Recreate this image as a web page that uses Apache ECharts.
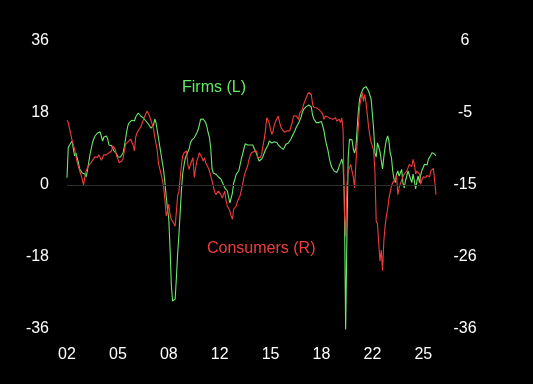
<!DOCTYPE html>
<html>
<head>
<meta charset="utf-8">
<script src="https://cdn.jsdelivr.net/npm/echarts@6/dist/echarts.min.js"></script>
<style>
html,body{margin:0;padding:0;background:#000;}
#c{width:533px;height:384px;}
</style>
</head>
<body>
<div id="c"></div>
<script>
// Monthly data, Jan 2002 onwards
const firms = [
  1.8, 9.3, 10, 10.5, 11, 9, 7.3, 8, 7.5, 5.5, 4, 3.5,
  3, 2.5, 2.75, 2, 3.5, 5.5, 7.5, 9, 10.5, 11.5, 12.25, 12.5,
  13, 12.5, 13.3, 13.5, 11, 12, 12.5, 12.25, 11.5, 10, 9.5, 9.8,
  9.3, 8.5, 8.2, 7.75, 7, 6.5, 7, 7.5, 8, 9.5, 11.5, 13.5,
  15, 15.6, 16, 16.2, 16.5, 16, 17, 17.5, 18, 17.5, 17.25, 17,
  16.75, 16.5, 16, 15.5, 15.25, 15, 14.2, 14, 15, 16.5, 15.5, 13.5,
  11.5, 9.5, 7.5, 5.5, 3.5, 0.5, -3, -6, -8.5, -16, -25, -29,
  -29.4, -28.5, -23, -17, -12.25, -6.5, -1, 3, 5, 6.8, 7.5, 8.3,
  9, 10.5, 11.2, 11.5, 11.8, 12.3, 13, 13.8, 15, 16.4, 16.8, 16.5,
  16.2, 15.6, 14.5, 13, 11.8, 9, 4, 3, 2.8, 2.7, 2.3, 2,
  1.8, 1.5, 1, 0, -0.7, -1, -1.5, -3, -4.5, -4.8, -2, 0.5,
  1.5, 2.7, 3, 3.5, 5, 6.5, 7.7, 9, 10.3, 10.6, 10, 9.8,
  10, 10.2, 10, 9.2, 8.9, 7.8, 6.8, 6, 5.6, 6.5, 7.2, 8,
  8.8, 9.3, 10, 11, 10.8, 10.5, 10.6, 10.8, 10.5, 10.6, 10, 9.75,
  9.4, 9, 8.9, 9.5, 10.2, 10.4, 10.5, 10.6, 11.5, 12.2, 12.7, 13.5,
  14.3, 14.8, 15.5, 16, 17, 18.2, 18.9, 19.3, 19.6, 19.75, 20, 20.2,
  19.5, 17.5, 16.5, 16, 15.6, 15.5, 15.6, 15.8, 15.9, 16, 13.5, 11.5,
  10, 8.8, 7, 5.5, 4.5, 4, 3.5, 3.2, 3.1, 3.8, 4.8, 5.6,
  6.5, 5, -3, -36.5, -12, 7, 11.4, 11, 11.3, 9, 8, 9.3,
  14, 18.5, 21.5, 22.7, 23.5, 24.2, 24.5, 24.6, 24.75, 23.5, 22.5, 21.5,
  21, 14, 8, 7, 10.5, 9.5, 8.3, 8, 4, 7, 9.5, 11.3,
  12.25, 11, 8, 6.8, 3.5, 1.5, 0.6, 2.7, 3.5, 2.25, 3, 3.9,
  0.6, -0.7, 1, 2.25, 3.5, 2.5, 1.5, 0.6, 2.7, 1, -1, 1,
  2.25, 0.6, 2.5, 3.7, 3.9, 5.2, 4.75, 5, 6.4, 6, 7.5, 8.1,
  8, 7.7, 7.25
];
const consumers = [
  -5.56, -5.9, -6.8, -7.6, -8.5, -9.2, -9.8, -10.8, -11.7, -12.3, -12.96, -13.5,
  -14.2, -15, -13.9, -13, -12.5, -12.2, -12, -11.75, -11.4, -11.2, -10.9, -10.77,
  -11, -10.6, -10.5, -11.4, -11, -10.6, -10.77, -10.6, -10.5, -10.3, -10.2, -10.04,
  -9.3, -9.5, -9.8, -10.77, -11.2, -11.75, -11.6, -11.5, -11.2, -11, -9.07, -8.9,
  -8.7, -8.5, -8.3, -8.1, -9.2, -10.04, -8, -7.4, -7.2, -6.8, -6.5, -6,
  -5.5, -5, -4.6, -4.2, -4.46, -5, -5.6, -6.15, -6.8, -8.1, -9, -10.04,
  -12, -12.7, -13.5, -14.3, -15.4, -17.2, -19.5, -18.8, -17.8, -19.3, -20, -20.3,
  -20.5, -21, -18.8, -16.5, -15.9, -13.9, -12, -10.7, -10.3, -10.2, -10.04, -12.1,
  -12.7, -12, -11.5, -11, -13.9, -12.7, -11.5, -11, -10.3, -10.04, -11, -11.5,
  -11, -11.75, -12, -12.5, -12.96, -13.2, -14.4, -15.2, -16, -16.4, -16.6, -15.9,
  -15.9, -16.4, -16.9, -17, -15.9, -17.3, -18.06, -18.4, -18.8, -19.5, -20, -18.5,
  -18.3, -18.06, -17.4, -16.9, -16.6, -16.4, -14.9, -13.9, -13.2, -12.7, -12.2, -11.3,
  -10.7, -10.3, -10.2, -10.1, -10, -10.04, -11, -11.2, -11, -10.5, -9.3, -8.3,
  -7, -5.2, -5.42, -6, -7, -7.6, -7.1, -6.2, -5.7, -5.42, -4.94, -5.8,
  -6.5, -6.88, -7.1, -7.3, -7.2, -7.1, -7.37, -7.1, -6.5, -5.9, -4.94, -5.2,
  -4.9, -4.7, -5.42, -4.46, -4.2, -3.96, -3.23, -3, -2.27, -1.8, -1.5, -1.29,
  -1.8, -3.2, -3.7, -3.96, -3.73, -3.96, -4, -4.2, -4.4, -4.7, -5.42, -4.94,
  -5, -5.1, -5.2, -5.3, -5.4, -5.42, -5.3, -5.2, -5.67, -5.5, -5.42, -5.9,
  -5.2, -7, -19, -22.5, -15, -12.96, -12.5, -12, -12.96, -13.8, -15.4, -12,
  -9.07, -6.5, -3.48, -2.5, -1.5, -2.8, -1.8, -3, -4.7, -6.5, -7.8, -8.8,
  -9.3, -10, -13, -20.3, -20.7, -23.5, -26.1, -24.5, -27.5, -23.2, -21, -19.5,
  -18.5, -17, -16, -15.2, -14.6, -14.5, -14.3, -13.6, -16.4, -15.4, -14.8, -14.3,
  -13.8, -13.4, -13.2, -12.96, -12.5, -12, -12.2, -12.3, -11.25, -12, -13.4, -12.96,
  -12.7, -13.4, -14.9, -14.2, -13.8, -13.7, -13.9, -13.6, -13.4, -13.8, -12.9, -12.7,
  -12.6, -12.7, -16.4
];
const startYear = 2002;
const leftTicks = { min: -36, max: 36, interval: 18 };
const rightTicks = { min: -36, max: 6, interval: 10.5 };

const months = [];
for (let i = 0; i < firms.length; i++) {
  const y = startYear + Math.floor(i / 12);
  const m = (i % 12) + 1;
  months.push(y + '-' + (m < 10 ? '0' + m : m));
}

const FONT = 'Liberation Sans, Arial, sans-serif';
const chart = echarts.init(document.getElementById('c'), null, { renderer: 'canvas' });
chart.setOption({
  backgroundColor: '#000000',
  animation: false,
  grid: { left: 67, right: 97, top: 41, bottom: 55, containLabel: false },
  xAxis: {
    type: 'category',
    data: months,
    boundaryGap: false,
    axisLine: { show: false },
    axisTick: { show: false },
    splitLine: { show: false },
    axisLabel: {
      interval: 39,
      color: '#ffffff',
      fontFamily: FONT,
      fontSize: 16,
      margin: 18,
      formatter: v => v.slice(2, 4)
    }
  },
  yAxis: [
    {
      type: 'value',
      position: 'left',
      min: leftTicks.min, max: leftTicks.max, interval: leftTicks.interval,
      axisLine: { show: false },
      axisTick: { show: false },
      splitLine: { show: false },
      axisLabel: { color: '#ffffff', fontFamily: FONT, fontSize: 16, margin: 18, padding: [3, 0, 0, 0] }
    },
    {
      type: 'value',
      position: 'right',
      min: rightTicks.min, max: rightTicks.max, interval: rightTicks.interval,
      axisLine: { show: false },
      axisTick: { show: false },
      splitLine: { show: false },
      axisLabel: {
        color: '#ffffff', fontFamily: FONT, fontSize: 16, margin: 29, align: 'center',
        padding: [3, 0, 0, 0],
        formatter: v => String(v < 0 ? -Math.round(-v) : Math.round(v))
      }
    }
  ],
  graphic: [
    { type: 'text', left: 182, top: 80, style: { text: 'Firms (L)', fill: '#66e866', font: '16px ' + FONT } },
    { type: 'text', left: 207, top: 241, style: { text: 'Consumers (R)', fill: '#f03c3c', font: '16px ' + FONT } }
  ],
  series: [
    {
      name: 'Firms (L)',
      type: 'line',
      yAxisIndex: 0,
      data: firms,
      symbol: 'none',
      lineStyle: { color: '#6ee86e', width: 1.1 },
      markLine: {
        silent: true,
        symbol: 'none',
        label: { show: false },
        lineStyle: { color: '#2e2e2e', width: 1, type: 'solid' },
        data: [{ yAxis: 0 }]
      },
      z: 2
    },
    {
      name: 'Consumers (R)',
      type: 'line',
      yAxisIndex: 1,
      data: consumers,
      symbol: 'none',
      lineStyle: { color: '#f03c3c', width: 1.1 },
      z: 3
    }
  ]
});
</script>
</body>
</html>
